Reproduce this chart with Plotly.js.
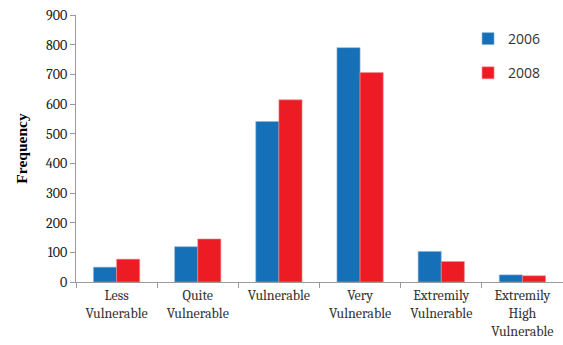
<!DOCTYPE html>
<html>
<head>
<meta charset="utf-8">
<script src="https://cdn.plot.ly/plotly-3.0.1.min.js"></script>
<style>
  html, body { margin: 0; padding: 0; background: #fff; }
  #chart { width: 563px; height: 345px; }
</style>
</head>
<body>
<div id="chart"></div>
<script>
// Vulnerability classes and frequencies per survey year
const categories = [
  "Less<br>Vulnerable",
  "Quite<br>Vulnerable",
  "Vulnerable",
  "Very<br>Vulnerable",
  "Extremily<br>Vulnerable",
  "Extremily<br>High<br>Vulnerable"
];
const freq2006 = [50, 119, 541, 790, 103, 24];
const freq2008 = [77, 145, 614, 706, 69, 21];
const yTicks = [0, 100, 200, 300, 400, 500, 600, 700, 800, 900];

const serif = "Cambria, 'DejaVu Serif', 'Liberation Serif', serif";

const traces = [
  {
    type: "bar", name: "2006", x: categories, y: freq2006,
    legendgroup: "a",
    marker: { color: "#1570B8", line: { color: "#8fb6dc", width: 0.6 } }
  },
  {
    type: "bar", name: "2008", x: categories, y: freq2008,
    legendgroup: "b",
    marker: { color: "#ED1C24", line: { color: "#f58a8e", width: 0.6 } }
  }
];

const layout = {
  width: 563, height: 345,
  margin: { l: 76, r: 0, t: 15, b: 63 },
  paper_bgcolor: "#fff", plot_bgcolor: "#fff",
  barmode: "group",
  bargap: 0.43, bargroupgap: 0,
  showlegend: true,
  legend: {
    x: 0.805, y: 0.97, xanchor: "left", yanchor: "top",
    font: { family: "'Open Sans', 'DejaVu Sans', sans-serif", size: 14, color: "#333" },
    tracegroupgap: 13, traceorder: "grouped",
    itemwidth: 30, bgcolor: "rgba(0,0,0,0)"
  },
  xaxis: {
    type: "category",
    showline: true, linecolor: "#9a9a9a", linewidth: 1,
    ticks: "outside", tickson: "boundaries", ticklen: 5, tickcolor: "#9a9a9a",
    tickfont: { family: serif, size: 14, color: "#333" },
    showgrid: false, zeroline: false
  },
  yaxis: {
    range: [0, 900],
    tickvals: yTicks,
    showline: true, linecolor: "#9a9a9a", linewidth: 1,
    ticks: "outside", ticklen: 5, tickcolor: "#9a9a9a",
    tickfont: { family: serif, size: 14, color: "#222" },
    showgrid: false, zeroline: false,
    title: {
      text: "<b>Frequency</b>",
      font: { family: "'Liberation Serif', 'Times New Roman', serif", size: 15.5, color: "#000" },
      standoff: 14
    }
  }
};

Plotly.newPlot("chart", traces, layout, { displayModeBar: false, staticPlot: true });
</script>
</body>
</html>
